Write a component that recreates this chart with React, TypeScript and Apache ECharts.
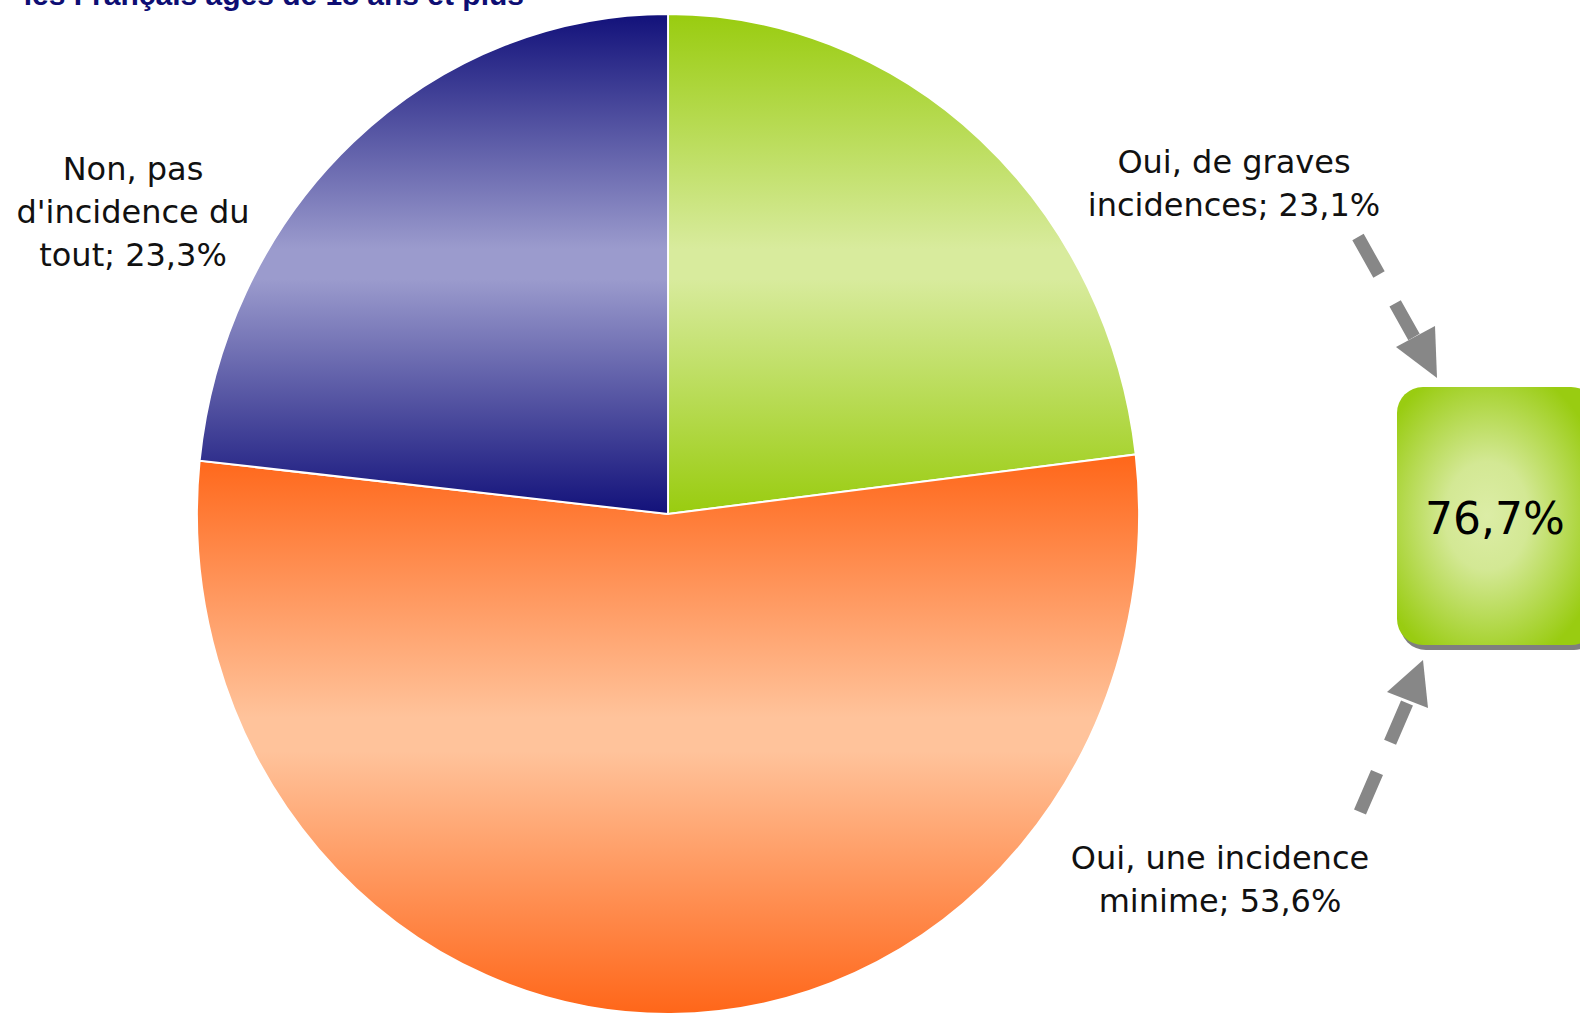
import React, { useEffect, useRef } from "react";
import * as echarts from "echarts";

const categories = [
  "Oui, de graves\nincidences",
  "Oui, une incidence\nminime",
  "Non, pas\nd'incidence du\ntout",
];
const values = [23.1, 53.6, 23.3];
const totalLabel = "76,7%";
const titleText = "les Français âgés de 18 ans et plus";

const sliceColors = [
  ["#99CC0F", "#D8EB9D"],
  ["#FF6619", "#FFC39B"],
  ["#12117A", "#9B9BCD"],
];
const labelPos = [
  [1234, 183],
  [1220, 879],
  [133, 212],
];

const fmt = (v: number) => String(v).replace(".", ",");

export default function App() {
  const ref = useRef<HTMLDivElement>(null);
  useEffect(() => {
    if (!ref.current) return;
    const chart = echarts.init(ref.current, null, { renderer: "svg" });
    const total = values.reduce((a, b) => a + b, 0);
    const cx = 668;
    const cy = 514;
    const ry = 500;
    const rx = 471;
    chart.setOption({
      animation: false,
      backgroundColor: "#ffffff",
      series: [
        {
          type: "custom",
          coordinateSystem: "none",
          data: categories.map((name, i) => ({ name, value: [values[i]] })),
          renderItem: (params: any, api: any) => {
            const i = params.dataIndex;
            const v = api.value(0);
            const before = values.slice(0, i).reduce((a, b) => a + b, 0);
            const start = -Math.PI / 2 + (2 * Math.PI * before) / total;
            const end = start + (2 * Math.PI * v) / total;
            return {
              type: "group",
              children: [
                {
                  type: "sector",
                  x: cx,
                  y: cy,
                  scaleX: rx / ry,
                  shape: { cx: 0, cy: 0, r0: 0, r: ry, startAngle: start, endAngle: end, clockwise: true },
                  style: {
                    fill: {
                      type: "linear",
                      x: 0,
                      y: 0,
                      x2: 0,
                      y2: 1,
                      colorStops: [
                        { offset: 0, color: sliceColors[i][0] },
                        { offset: 0.47, color: sliceColors[i][1] },
                        { offset: 0.53, color: sliceColors[i][1] },
                        { offset: 1, color: sliceColors[i][0] },
                      ],
                    },
                    stroke: "#ffffff",
                    lineWidth: 2,
                  },
                },
                {
                  type: "text",
                  x: labelPos[i][0],
                  y: labelPos[i][1],
                  style: {
                    text: `${categories[i]}; ${fmt(v)}%`,
                    fontFamily: "DejaVu Sans",
                    fontSize: 32,
                    lineHeight: 43,
                    fill: "#111111",
                    align: "center",
                    verticalAlign: "middle",
                  },
                },
              ],
            };
          },
        },
      ],
      graphic: [
        {
          type: "text",
          right: 1580 - 524,
          top: -21,
          style: {
            text: titleText,
            fontFamily: "Liberation Sans",
            fontWeight: "bold",
            fontSize: 30,
            fill: "#0E0E73",
          },
        },
        {
          type: "line",
          shape: { x1: 1358, y1: 237, x2: 1414, y2: 337 },
          style: { stroke: "#878787", lineWidth: 13, lineDash: [43, 33] },
        },
        {
          type: "polygon",
          shape: { points: [[1396, 347], [1435, 326], [1437, 378]] },
          style: { fill: "#878787" },
        },
        {
          type: "line",
          shape: { x1: 1360, y1: 812, x2: 1407, y2: 703 },
          style: { stroke: "#878787", lineWidth: 13, lineDash: [43, 33] },
        },
        {
          type: "polygon",
          shape: { points: [[1387, 692], [1428, 708], [1423, 660]] },
          style: { fill: "#878787" },
        },
        {
          type: "rect",
          shape: { x: 1400, y: 392, width: 200, height: 258, r: 26 },
          style: { fill: "#7F7F7F" },
        },
        {
          type: "rect",
          shape: { x: 1397, y: 387, width: 200, height: 258, r: 26 },
          style: {
            fill: {
              type: "radial",
              x: 0.45,
              y: 0.5,
              r: 0.6,
              colorStops: [
                { offset: 0, color: "#DCEDA6" },
                { offset: 0.35, color: "#D3E894" },
                { offset: 1, color: "#99CC11" },
              ],
            },
          },
        },
        {
          type: "text",
          x: 1495,
          y: 518,
          style: {
            text: totalLabel,
            fontFamily: "DejaVu Sans",
            fontSize: 44,
            fill: "#000000",
            align: "center",
            verticalAlign: "middle",
          },
        },
      ],
    });
    return () => chart.dispose();
  }, []);
  return (
    <div
      ref={ref}
      style={{ position: "absolute", left: 0, top: 0, width: 1580, height: 1013 }}
    />
  );
}
